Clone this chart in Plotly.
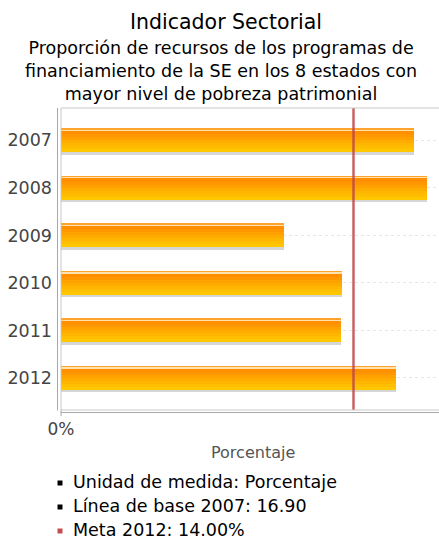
import plotly.graph_objects as go

# ---------------- data ----------------
years = ["2007", "2008", "2009", "2010", "2011", "2012"]
values = [16.90, 17.50, 10.67, 13.44, 13.39, 16.02]
meta_value = 14.0
x_tick_vals = [0]
x_tick_text = ["0%"]
title_text = "Indicador Sectorial"
subtitle_lines = [
    "Proporción de recursos de los programas de",
    "financiamiento de la SE en los 8 estados con",
    "mayor nivel de pobreza patrimonial",
]
x_title = "Porcentaje"
legend_labels = [
    "Unidad de medida: Porcentaje",
    "Línea de base 2007: 16.90",
    "Meta 2012: 14.00%",
]
legend_colors = ["#000000", "#000000", "#C0504D"]

# ---------------- layout geometry ----------------
W, H = 439, 540
ML, MR, MT, MB = 61, 0, 108, 130
PW = W - ML - MR
PH = H - MT - MB
FONT = "DejaVu Sans"
PX_PER_CAT = 47.5          # pixel distance between categories
BAR_PX = 24                # bar thickness in pixels


def px_x(px):
    return (px - ML) / PW


def px_y(py):
    return (H - MB - py) / PH


fig = go.Figure()

# shadow under each bar
fig.add_trace(go.Bar(
    y=years, x=values, orientation="h",
    offset=(2 - BAR_PX / 2) / PX_PER_CAT, width=(BAR_PX + 0.5) / PX_PER_CAT,
    marker=dict(color="#D6D6D6", line=dict(width=0)),
    hoverinfo="skip", showlegend=False,
))

# vertical gradient of the bars built from layered bands
layers = [
    (0.0, "#FFA42A"),
    (1.3, "#FFE2B0"),
    (2.6, "#FF8E00"),
    (6.0, "#FF9800"),
    (9.0, "#FFA200"),
    (12.0, "#FFAC00"),
    (15.0, "#FFB600"),
    (18.0, "#FFBF00"),
    (21.0, "#FFC700"),
]
for top_px, col in layers:
    fig.add_trace(go.Bar(
        y=years, x=values, orientation="h",
        offset=(top_px - BAR_PX / 2) / PX_PER_CAT,
        width=(BAR_PX - top_px) / PX_PER_CAT,
        marker=dict(color=col, line=dict(width=0)),
        hovertemplate="%{y}: %{x:.2f}%<extra></extra>",
        showlegend=False,
    ))

shapes = []
# meta line
shapes.append(dict(type="line", xref="x", yref="paper", x0=meta_value, x1=meta_value,
                   y0=0, y1=1, line=dict(color="rgba(192,72,72,0.85)", width=2.5), layer="above"))
# inner frame
frame_col = "#C8C8C8"
shapes += [
    dict(type="line", xref="paper", yref="paper", x0=0, x1=1, y0=1, y1=1, line=dict(color=frame_col, width=1)),
    dict(type="line", xref="paper", yref="paper", x0=0, x1=1, y0=0, y1=0, line=dict(color=frame_col, width=1)),
    dict(type="line", xref="paper", yref="paper", x0=0, x1=0, y0=0, y1=1, line=dict(color=frame_col, width=1)),
]
# outer axis lines
axis_col = "#A8A8A8"
shapes += [
    dict(type="line", xref="paper", yref="paper", x0=px_x(57.5), x1=px_x(57.5),
         y0=px_y(410.5), y1=1, line=dict(color=axis_col, width=1)),
    dict(type="line", xref="paper", yref="paper", x0=0, x1=1,
         y0=px_y(412.5), y1=px_y(412.5), line=dict(color=axis_col, width=1)),
    dict(type="line", xref="paper", yref="paper", x0=0, x1=0,
         y0=px_y(416), y1=0, line=dict(color=axis_col, width=1)),
]

annotations = []
annotations.append(dict(text=title_text, xref="paper", yref="paper", x=px_x(226), y=px_y(22),
                        xanchor="center", yanchor="middle", showarrow=False,
                        font=dict(family=FONT, size=20.5, color="#000000")))
annotations.append(dict(text="<br>".join(subtitle_lines), xref="paper", yref="paper",
                        x=px_x(221), y=px_y(70.5), xanchor="center", yanchor="middle",
                        showarrow=False, align="center",
                        font=dict(family=FONT, size=17.5, color="#000000")))
annotations.append(dict(text=x_title, xref="paper", yref="paper", x=px_x(253), y=px_y(452),
                        xanchor="center", yanchor="middle", showarrow=False,
                        font=dict(family=FONT, size=16, color="#555555")))

legend_y = [482, 506, 530]
for lab, col, ly in zip(legend_labels, legend_colors, legend_y):
    annotations.append(dict(text=lab, xref="paper", yref="paper", x=px_x(71), y=px_y(ly),
                            xanchor="left", yanchor="middle", showarrow=False,
                            font=dict(family=FONT, size=17.5, color="#000000")))
    shapes.append(dict(type="rect", xref="paper", yref="paper",
                       x0=px_x(57.5), x1=px_x(62.5), y0=px_y(ly + 3.5), y1=px_y(ly - 1.5),
                       line=dict(width=0), fillcolor=col))

top_units = (140.3 - MT) / PX_PER_CAT
bottom_units = (H - MB - 378) / PX_PER_CAT

fig.update_layout(
    width=W, height=H,
    margin=dict(l=ML, r=MR, t=MT, b=MB, pad=0),
    barmode="overlay",
    bargap=0,
    plot_bgcolor="white", paper_bgcolor="white",
    font=dict(family=FONT, color="#444444"),
    showlegend=False,
    xaxis=dict(range=[0, (W - ML - MR) / ((354 - 61.5) / meta_value)],
               tickvals=x_tick_vals, ticktext=x_tick_text,
               showgrid=False, zeroline=False, showline=False,
               ticks="outside", ticklen=4, tickcolor="rgba(0,0,0,0)",
               tickfont=dict(family=FONT, size=17, color="#444444")),
    yaxis=dict(type="category", categoryorder="array", categoryarray=years,
               range=[len(years) - 1 + bottom_units, -top_units],
               showgrid=True, gridcolor="#E6E6E6", griddash="dot", gridwidth=1,
               zeroline=False, showline=False, ticks="",
               ticklabelstandoff=8,
               tickfont=dict(family=FONT, size=17.5, color="#444444")),
    shapes=shapes,
    annotations=annotations,
)

fig.write_html("out.html", config={"displayModeBar": False},
               post_script="document.body.style.margin='0';document.body.style.overflow='hidden';")
